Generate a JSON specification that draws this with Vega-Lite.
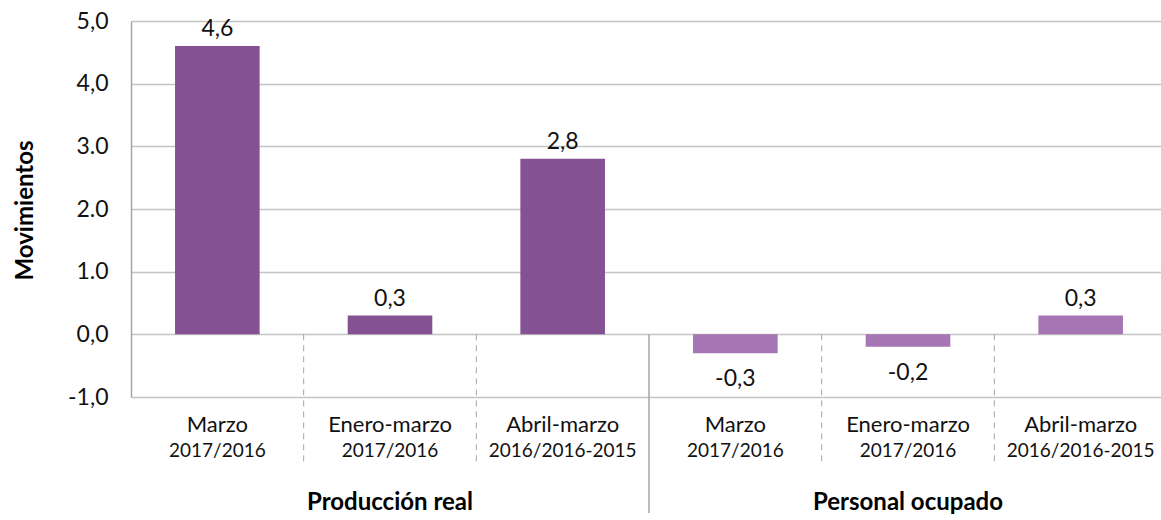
{
  "$schema": "https://vega.github.io/schema/vega-lite/v6.json",
  "width": 1030,
  "height": 376,
  "autosize": {"type": "none"},
  "padding": {"left": 131, "top": 21, "right": 0, "bottom": 123},
  "background": "white",
  "config": {
    "view": {"stroke": null},
    "font": "Lato",
    "text": {"font": "Lato", "color": "#111111"}
  },
  "data": {
    "values": [
      {"id": "P1", "cat": "Marzo", "period": "2017/2016", "group": "Producción real", "value": 4.6},
      {"id": "P2", "cat": "Enero-marzo", "period": "2017/2016", "group": "Producción real", "value": 0.3},
      {"id": "P3", "cat": "Abril-marzo", "period": "2016/2016-2015", "group": "Producción real", "value": 2.8},
      {"id": "O1", "cat": "Marzo", "period": "2017/2016", "group": "Personal ocupado", "value": -0.3},
      {"id": "O2", "cat": "Enero-marzo", "period": "2017/2016", "group": "Personal ocupado", "value": -0.2},
      {"id": "O3", "cat": "Abril-marzo", "period": "2016/2016-2015", "group": "Personal ocupado", "value": 0.3}
    ]
  },
  "transform": [
    {"calculate": "replace(replace(format(datum.value, '.1f'), '.', ','), '\u2212', '-')", "as": "label"}
  ],
  "encoding": {
    "x": {
      "field": "id",
      "type": "nominal",
      "sort": null,
      "scale": {"paddingInner": 0, "paddingOuter": 0, "range": [0, 1036]},
      "axis": null
    }
  },
  "layer": [
    {
      "mark": {"type": "bar", "width": {"band": 0.49}},
      "encoding": {
        "y": {
          "field": "value",
          "type": "quantitative",
          "scale": {"domain": [-1, 5], "nice": false, "zero": false},
          "axis": {
            "values": [-1, 0, 1, 2, 3, 4, 5],
            "labelExpr": "indexof([1, 2, 3], datum.value) >= 0 ? format(datum.value, '.1f') : replace(replace(format(datum.value, '.1f'), '.', ','), '\u2212', '-')",
            "labelFont": "Lato",
            "labelFontSize": 23,
            "labelColor": "#111111",
            "labelPadding": 23,
            "ticks": false,
            "grid": true,
            "gridColor": "#c4c4c4",
            "gridWidth": 1.5,
            "domain": true,
            "domainColor": "#a6a6a6",
            "domainWidth": 1.5,
            "title": "Movimientos",
            "titleFont": "Lato",
            "titleFontSize": 24,
            "titleFontWeight": "bold",
            "titleColor": "#000000",
            "titleAngle": 270,
            "titleBaseline": "alphabetic",
            "titleAlign": "center",
            "titleX": -98.5,
            "titleY": 189
          }
        },
        "color": {
          "field": "group",
          "type": "nominal",
          "scale": {"domain": ["Producción real", "Personal ocupado"], "range": ["#845292", "#a675b3"]},
          "legend": null
        }
      }
    },
    {
      "transform": [{"filter": "datum.value >= 0"}],
      "mark": {"type": "text", "fontSize": 23, "baseline": "alphabetic", "dy": -10},
      "encoding": {
        "y": {"field": "value", "type": "quantitative"},
        "text": {"field": "label"}
      }
    },
    {
      "transform": [{"filter": "datum.value < 0"}],
      "mark": {"type": "text", "fontSize": 23, "baseline": "alphabetic", "dy": 33},
      "encoding": {
        "y": {"field": "value", "type": "quantitative"},
        "text": {"field": "label"}
      }
    },
    {
      "transform": [{"filter": "datum.id != 'P1' && datum.id != 'O1'"}],
      "mark": {"type": "rule", "color": "#a6a6a6", "strokeDash": [6, 5], "strokeWidth": 1, "clip": false},
      "encoding": {
        "x": {"field": "id", "type": "nominal", "sort": null, "bandPosition": 0},
        "y": {"datum": 0, "type": "quantitative"},
        "y2": {"datum": -2.05}
      }
    },
    {
      "transform": [{"filter": "datum.id == 'O1'"}],
      "mark": {"type": "rule", "color": "#a6a6a6", "strokeWidth": 1.5, "clip": false},
      "encoding": {
        "x": {"field": "id", "type": "nominal", "sort": null, "bandPosition": 0},
        "y": {"datum": 0, "type": "quantitative"},
        "y2": {"datum": -2.85}
      }
    },
    {
      "mark": {"type": "text", "fontSize": 22, "baseline": "alphabetic", "clip": false},
      "encoding": {
        "y": {"datum": -1.56, "type": "quantitative"},
        "text": {"field": "cat"}
      }
    },
    {
      "mark": {"type": "text", "fontSize": 19, "baseline": "alphabetic", "clip": false},
      "encoding": {
        "y": {"datum": -1.95, "type": "quantitative"},
        "text": {"field": "period"}
      }
    },
    {
      "transform": [{"filter": "datum.id == 'P2' || datum.id == 'O2'"}],
      "mark": {"type": "text", "fontSize": 24, "fontWeight": "bold", "baseline": "alphabetic", "clip": false, "color": "#000000"},
      "encoding": {
        "y": {"datum": -2.8, "type": "quantitative"},
        "text": {"field": "group"}
      }
    }
  ]
}
